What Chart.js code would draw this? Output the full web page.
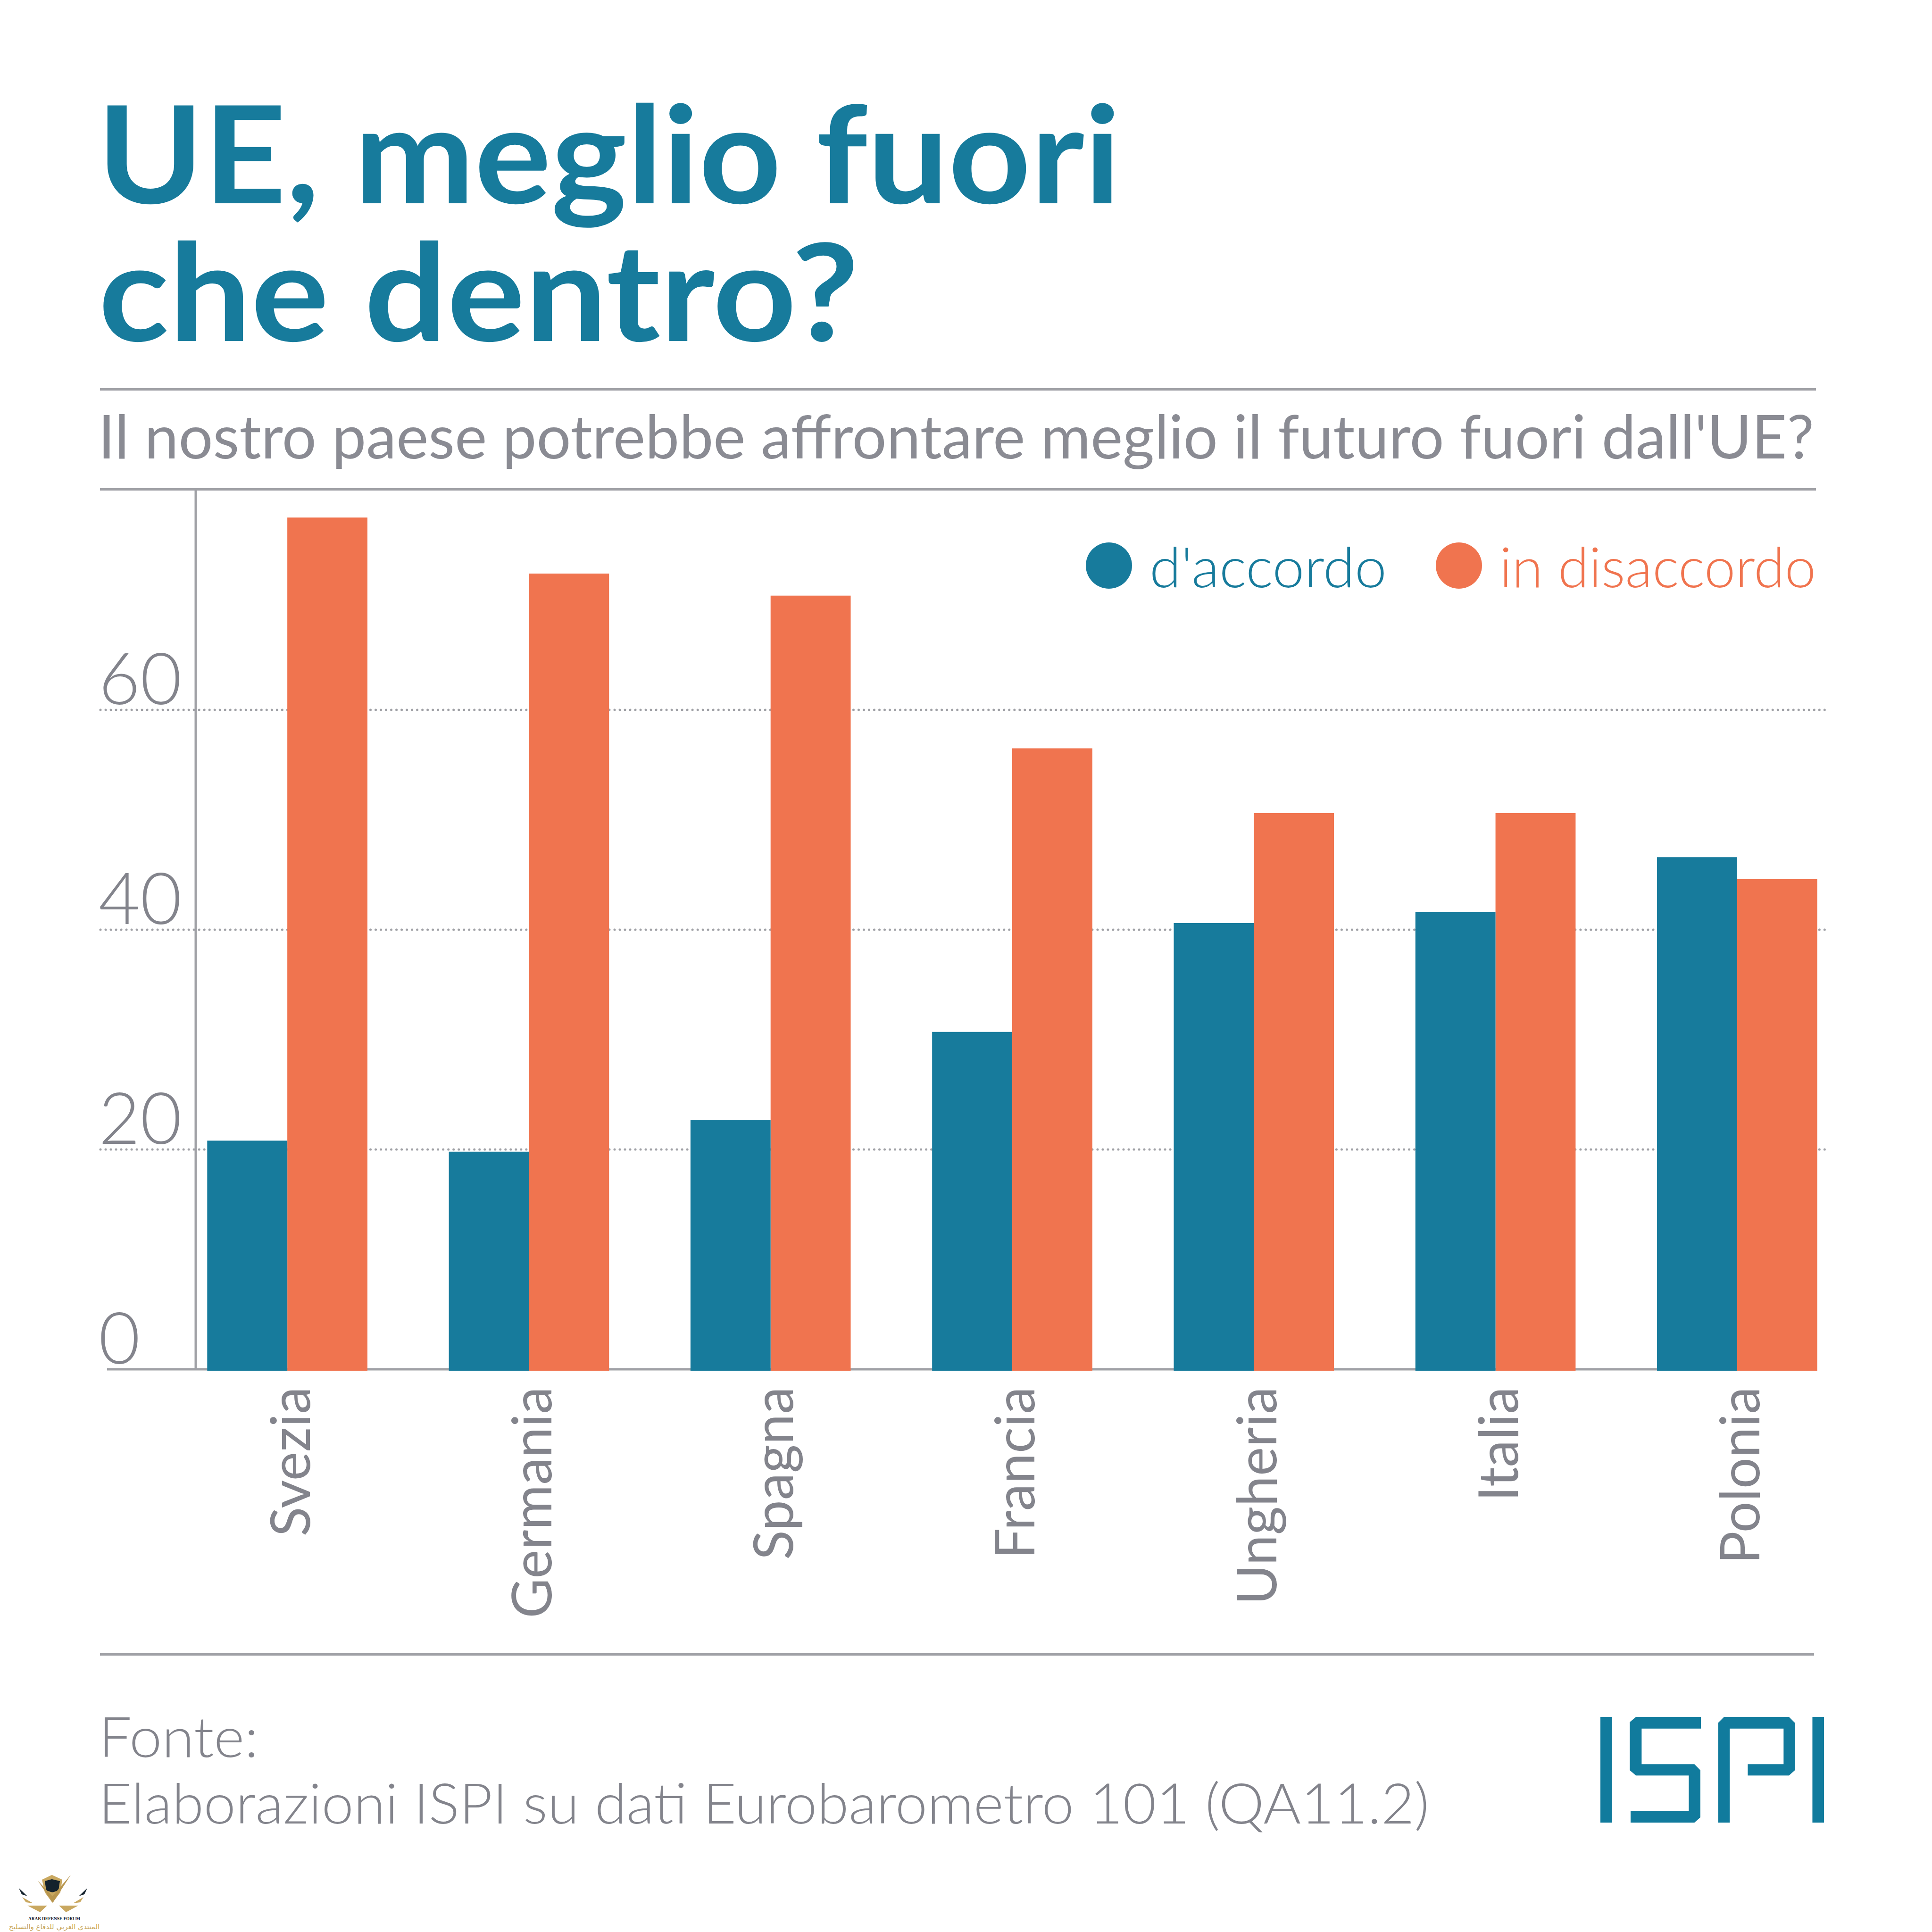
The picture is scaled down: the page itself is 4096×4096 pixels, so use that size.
<!DOCTYPE html>
<html>
<head>
<meta charset="utf-8">
<script src="https://cdn.jsdelivr.net/npm/chart.js@4"></script>
<style>
  body { margin: 0; background: #fff; }
  #wrap { position: relative; width: 4096px; height: 4096px; overflow: hidden; }
  #wrap canvas, #wrap svg { position: absolute; left: 0; top: 0; }
  text { font-family: Lato, sans-serif; }
</style>
</head>
<body>
<div id="wrap">
  <svg id="overlay" width="4096" height="4096" viewBox="0 0 4096 4096">
    <text x="206" y="431" font-size="287" font-weight="700" fill="#177b9c" textLength="2170" lengthAdjust="spacingAndGlyphs">UE, meglio fuori</text>
    <text x="209" y="723" font-size="287" font-weight="700" fill="#177b9c" textLength="1612" lengthAdjust="spacingAndGlyphs">che dentro?</text>
    <rect x="212" y="823" width="3638" height="5" fill="#a0a1a6"/>
    <text x="208" y="972" font-size="128" fill="#8a8b93" textLength="3638" lengthAdjust="spacingAndGlyphs">Il nostro paese potrebbe affrontare meglio il futuro fuori dall'UE?</text>
    <rect x="212" y="1035" width="3638" height="5" fill="#a0a1a6"/>
    <rect x="212" y="3505" width="3634" height="5" fill="#a0a1a6"/>
    <text x="209" y="3725" font-size="118" font-weight="300" fill="#83848c" textLength="339" lengthAdjust="spacingAndGlyphs">Fonte:</text>
    <text x="209" y="3866" font-size="118" font-weight="300" fill="#83848c" textLength="2821" lengthAdjust="spacingAndGlyphs">Elaborazioni ISPI su dati Eurobarometro 101 (QA11.2)</text>
    <!-- ISPI logo, traced from the crop -->
    <svg x="3393" y="3640" width="474" height="224" viewBox="338 540 830 505" preserveAspectRatio="none" fill="#117b9d">
      <rect x="338" y="540" width="43" height="505"/>
      <polygon points="470,540 711,540 711,596 491,596 491,766 687,766 709,795 709,1020 687,1045 450,1045 450,990 666,990 666,820 470,820 447,795 447,565"/>
      <polygon points="775,1045 775,568 797,540 1038,540 1060,568 1060,795 1038,820 885,820 885,766 1018,766 1018,596 818,596 818,1045"/>
      <rect x="1125" y="540" width="43" height="505"/>
    </svg>
    <!-- forum watermark -->
    <g>
      <polygon points="89,3985 110,3975 132,3985 128,4012 111,4034 95,4012" fill="#c9a860"/>
      <polygon points="95,3988 110,3984 127,3988 124,4008 111,4012 98,4008" fill="#14222c"/>
      <polygon points="80,3987 111,4020 150,3975 112,4034" fill="#b8964f"/>
      <polygon points="40,4003 58,4020 46,4016" fill="#14222c"/>
      <polygon points="185,4003 167,4020 179,4016" fill="#14222c"/>
      <polygon points="47,4022 70,4035 55,4033" fill="#c9a860"/>
      <polygon points="177,4022 155,4035 170,4033" fill="#c9a860"/>
      <polygon points="58,4040 100,4040 85,4054" fill="#c9a860"/>
      <polygon points="166,4040 125,4040 140,4054" fill="#c9a860"/>
      <text x="60" y="4071" font-size="11" font-weight="700" fill="#14222c" style="font-family:'Liberation Serif',serif" textLength="110" lengthAdjust="spacingAndGlyphs">ARAB DEFENSE FORUM</text>
      <text x="115" y="4090" font-size="15" text-anchor="middle" fill="#c9a860" style="font-family:'DejaVu Sans',sans-serif">المنتدى العربي للدفاع والتسليح</text>
    </g>
  </svg>
  <canvas id="chart" width="4096" height="4096"></canvas>
</div>
<script>
const categories = ["Svezia", "Germania", "Spagna", "Francia", "Ungheria", "Italia", "Polonia"]
const accordo = [20.8, 19.8, 22.7, 30.7, 40.6, 41.6, 46.6]
const disaccordo = [77.5, 72.4, 70.4, 56.5, 50.6, 50.6, 44.6]
const seriesNames = ["d'accordo", "in disaccordo"]
const yTicks = [0, 20, 40, 60]

const TEAL = "#177b9c"
const ORANGE = "#f0744f"
const GREY = "#83848c"
const RULE = "#a0a1a6"

// dotted grid and the two axis lines run past the plot area, so draw them here
const axisLines = {
  id: "axisLines",
  beforeDatasetsDraw(chart) {
    const { ctx, scales: { y } } = chart
    ctx.save()
    ctx.strokeStyle = RULE
    ctx.lineCap = "round"
    ctx.lineWidth = 5
    ctx.setLineDash([0.01, 11])
    yTicks.slice(1).forEach(v => {
      const py = y.getPixelForValue(v)
      ctx.beginPath()
      ctx.moveTo(213, py)
      ctx.lineTo(3875, py)
      ctx.stroke()
    })
    ctx.setLineDash([])
    ctx.lineCap = "butt"
    ctx.lineWidth = 5
    ctx.beginPath()
    ctx.moveTo(415, 1037)
    ctx.lineTo(415, y.getPixelForValue(0))
    ctx.moveTo(227, y.getPixelForValue(0))
    ctx.lineTo(3850, y.getPixelForValue(0))
    ctx.stroke()
    ctx.restore()
  }
}

// legend sits inside the plot, top right
const legendX = [[2351, 2437, 503], [3093, 3179, 671]]
const svgNS = "http://www.w3.org/2000/svg"
const overlay = document.getElementById("overlay")
seriesNames.forEach((name, i) => {
  const color = i === 0 ? TEAL : ORANGE
  const dot = document.createElementNS(svgNS, "circle")
  dot.setAttribute("cx", legendX[i][0])
  dot.setAttribute("cy", 1199)
  dot.setAttribute("r", 49)
  dot.setAttribute("fill", color)
  overlay.appendChild(dot)
  const label = document.createElementNS(svgNS, "text")
  label.setAttribute("x", legendX[i][1])
  label.setAttribute("y", 1245)
  label.setAttribute("font-size", 118)
  label.setAttribute("font-weight", 300)
  label.setAttribute("fill", color)
  label.setAttribute("textLength", legendX[i][2])
  label.setAttribute("lengthAdjust", "spacingAndGlyphs")
  label.textContent = name
  overlay.appendChild(label)
})

new Chart(document.getElementById("chart").getContext("2d"), {
  type: "bar",
  data: {
    labels: categories,
    datasets: [
      { label: seriesNames[0], data: accordo, backgroundColor: TEAL },
      { label: seriesNames[1], data: disaccordo, backgroundColor: ORANGE }
    ]
  },
  options: {
    responsive: false,
    animation: false,
    devicePixelRatio: 1,
    layout: { padding: { top: 1039, right: 157, bottom: 0, left: 0 } },
    datasets: { bar: { categoryPercentage: 0.663, barPercentage: 1, base: -0.13, clip: false } },
    plugins: { legend: { display: false }, tooltip: { enabled: false } },
    scales: {
      x: {
        grid: { display: false, drawTicks: false },
        border: { display: false },
        afterFit: scale => { scale.height = 1193 },
        ticks: {
          color: GREY,
          font: { family: "Lato", size: 116 },
          minRotation: 90,
          maxRotation: 90,
          padding: 37,
          labelOffset: 10,
          autoSkip: false
        }
      },
      y: {
        min: 0,
        max: 80,
        grid: { display: false, drawTicks: false },
        border: { display: false },
        afterFit: scale => { scale.width = 353 },
        afterBuildTicks: scale => { scale.ticks = yTicks.map(v => ({ value: v })) },
        ticks: {
          color: GREY,
          font: { family: "Lato", size: 152, weight: "300" },
          mirror: true,
          crossAlign: "near",
          align: "end",
          padding: -144,
          labelOffset: 15
        }
      }
    }
  },
  plugins: [axisLines]
})
</script>
</body>
</html>
